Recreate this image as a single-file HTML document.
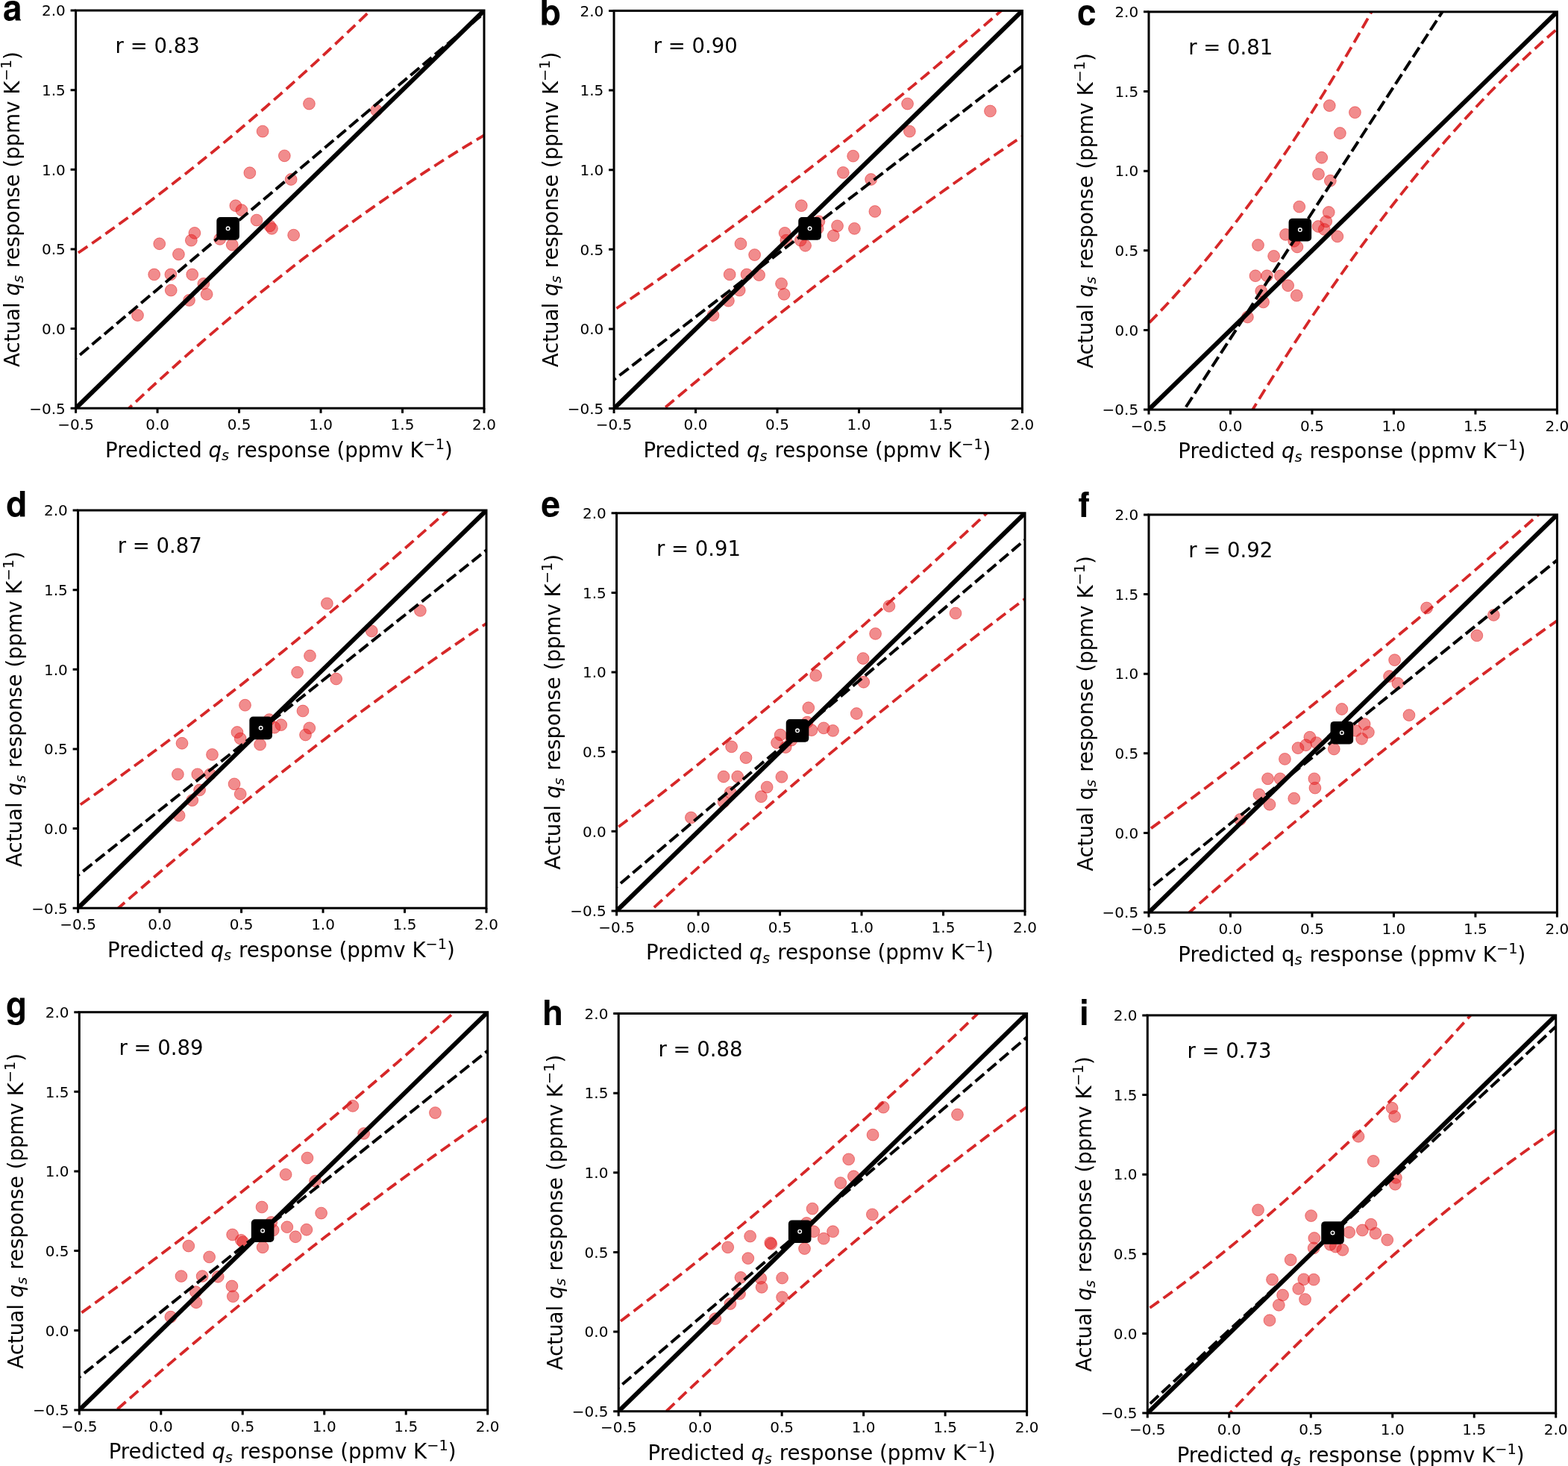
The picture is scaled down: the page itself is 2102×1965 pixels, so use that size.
<!DOCTYPE html><html><head><meta charset="utf-8"><style>html,body{margin:0;padding:0;background:#fff;}svg{display:block;}text{font-family:"DejaVu Sans","Liberation Sans",sans-serif;fill:#000;}.let{font-family:"TeX Gyre Heros","Liberation Sans",Arial,sans-serif;font-weight:bold;}</style></head><body>
<svg xmlns="http://www.w3.org/2000/svg" width="2102" height="1965" viewBox="0 0 2102 1965">
<rect x="0" y="0" width="2102" height="1965" fill="#fff"/>
<defs><clipPath id="ca"><rect x="101.6" y="14" width="547.4" height="533.2"/></clipPath><clipPath id="cb"><rect x="823.05" y="14.4" width="547.4" height="533.2"/></clipPath><clipPath id="cc"><rect x="1540" y="15.85" width="547.4" height="533.2"/></clipPath><clipPath id="cd"><rect x="104.6" y="684" width="547.4" height="533.2"/></clipPath><clipPath id="ce"><rect x="826.6" y="687.75" width="547.4" height="533.2"/></clipPath><clipPath id="cf"><rect x="1540" y="689.9" width="547.4" height="533.2"/></clipPath><clipPath id="cg"><rect x="106.3" y="1356.7" width="547.4" height="533.2"/></clipPath><clipPath id="ch"><rect x="829.2" y="1358.5" width="547.4" height="533.2"/></clipPath><clipPath id="ci"><rect x="1538.3" y="1360.9" width="547.4" height="533.2"/></clipPath></defs>
<g clip-path="url(#ca)">
<g fill="#e41a1c" fill-opacity="0.5" stroke="#e41a1c" stroke-opacity="0.5" stroke-width="1.0">
<circle cx="414.44" cy="139.08" r="7.9"/>
<circle cx="504.58" cy="147.89" r="7.9"/>
<circle cx="352.11" cy="176.06" r="7.9"/>
<circle cx="381.34" cy="208.8" r="7.9"/>
<circle cx="334.86" cy="231.69" r="7.9"/>
<circle cx="390.14" cy="240.49" r="7.9"/>
<circle cx="315.85" cy="275.7" r="7.9"/>
<circle cx="323.94" cy="281.69" r="7.9"/>
<circle cx="344.01" cy="295.07" r="7.9"/>
<circle cx="361.62" cy="302.82" r="7.9"/>
<circle cx="364.44" cy="306.34" r="7.9"/>
<circle cx="393.66" cy="315.14" r="7.9"/>
<circle cx="260.92" cy="312.32" r="7.9"/>
<circle cx="256.34" cy="322.18" r="7.9"/>
<circle cx="213.73" cy="326.76" r="7.9"/>
<circle cx="294.72" cy="320.42" r="7.9"/>
<circle cx="311.27" cy="328.17" r="7.9"/>
<circle cx="239.44" cy="340.85" r="7.9"/>
<circle cx="206.69" cy="367.96" r="7.9"/>
<circle cx="228.87" cy="367.96" r="7.9"/>
<circle cx="257.75" cy="367.96" r="7.9"/>
<circle cx="272.89" cy="380.28" r="7.9"/>
<circle cx="229.23" cy="389.08" r="7.9"/>
<circle cx="277.11" cy="394.37" r="7.9"/>
<circle cx="253.52" cy="402.46" r="7.9"/>
<circle cx="184.51" cy="422.54" r="7.9"/>
</g>
<line x1="79.7" y1="568.53" x2="670.9" y2="-7.33" stroke="#000" stroke-width="6"/>
<line x1="57.81" y1="517.35" x2="692.79" y2="-19.51" stroke="#000" stroke-width="4" stroke-dasharray="15.5 6"/>
<polyline points="86.6,351.32 96.22,344.83 105.85,338.28 115.47,331.66 125.09,324.97 134.72,318.21 144.34,311.38 153.96,304.48 163.59,297.51 173.21,290.48 182.83,283.37 192.46,276.2 202.08,268.96 211.7,261.64 221.33,254.26 230.95,246.82 240.57,239.3 250.2,231.71 259.82,224.05 269.44,216.33 279.07,208.54 288.69,200.67 298.31,192.74 307.94,184.74 317.56,176.67 327.18,168.53 336.81,160.32 346.43,152.05 356.05,143.7 365.68,135.29 375.3,126.81 384.92,118.25 394.55,109.63 404.17,100.94 413.79,92.18 423.42,83.36 433.04,74.46 442.66,65.49 452.29,56.46 461.91,47.35 471.53,38.18 481.16,28.94 490.78,19.63 500.4,10.25 510.03,0.8 519.65,-8.71 529.27,-18.3 538.9,-27.96 548.52,-37.68 558.14,-47.47 567.77,-57.33 577.39,-67.26 587.01,-77.26 596.64,-87.33 606.26,-97.47 615.88,-107.68 625.51,-117.95 635.13,-128.3 644.75,-138.71 654.38,-149.19 664,-159.74" fill="none" stroke="#d62728" stroke-width="3.8" stroke-dasharray="15 7.2"/>
<polyline points="86.6,631.38 96.22,621.72 105.85,612.13 115.47,602.61 125.09,593.15 134.72,583.76 144.34,574.44 153.96,565.19 163.59,556.01 173.21,546.9 182.83,537.85 192.46,528.87 202.08,519.97 211.7,511.12 221.33,502.35 230.95,493.65 240.57,485.01 250.2,476.44 259.82,467.94 269.44,459.51 279.07,451.14 288.69,442.85 298.31,434.62 307.94,426.46 317.56,418.37 327.18,410.35 336.81,402.39 346.43,394.5 356.05,386.69 365.68,378.94 375.3,371.25 384.92,363.64 394.55,356.09 404.17,348.62 413.79,341.21 423.42,333.86 433.04,326.59 442.66,319.39 452.29,312.25 461.91,305.18 471.53,298.18 481.16,291.25 490.78,284.38 500.4,277.59 510.03,270.86 519.65,264.2 529.27,257.61 538.9,251.09 548.52,244.63 558.14,238.24 567.77,231.93 577.39,225.68 587.01,219.49 596.64,213.38 606.26,207.33 615.88,201.35 625.51,195.45 635.13,189.6 644.75,183.83 654.38,178.13 664,172.49" fill="none" stroke="#d62728" stroke-width="3.8" stroke-dasharray="15 7.2"/>
</g>
<rect x="290.33" y="291.04" width="30.6" height="30.6" rx="5" fill="#000"/>
<circle cx="305.63" cy="306.34" r="2.3" fill="none" stroke="#fff" stroke-width="1.4"/>
<rect x="101.6" y="14" width="547.4" height="533.2" fill="none" stroke="#000" stroke-width="3"/>
<path d="M101.6 547.2V553.7M101.6 547.2H94.6M211.08 547.2V553.7M101.6 440.56H94.6M320.56 547.2V553.7M101.6 333.92H94.6M430.04 547.2V553.7M101.6 227.28H94.6M539.52 547.2V553.7M101.6 120.64H94.6M649 547.2V553.7M101.6 14H94.6" stroke="#000" stroke-width="3" fill="none"/>
<text x="101.6" y="575.9" font-size="20" text-anchor="middle">−0.5</text>
<text x="87.8" y="554.5" font-size="20" text-anchor="end">−0.5</text>
<text x="211.08" y="575.9" font-size="20" text-anchor="middle">0.0</text>
<text x="87.8" y="447.86" font-size="20" text-anchor="end">0.0</text>
<text x="320.56" y="575.9" font-size="20" text-anchor="middle">0.5</text>
<text x="87.8" y="341.22" font-size="20" text-anchor="end">0.5</text>
<text x="430.04" y="575.9" font-size="20" text-anchor="middle">1.0</text>
<text x="87.8" y="234.58" font-size="20" text-anchor="end">1.0</text>
<text x="539.52" y="575.9" font-size="20" text-anchor="middle">1.5</text>
<text x="87.8" y="127.94" font-size="20" text-anchor="end">1.5</text>
<text x="649" y="575.9" font-size="20" text-anchor="middle">2.0</text>
<text x="87.8" y="21.3" font-size="20" text-anchor="end">2.0</text>
<text x="373.9" y="612.6" font-size="27.65" text-anchor="middle">Predicted <tspan font-style="italic">q</tspan><tspan font-size="19.35" font-style="italic" dy="4.5">s</tspan><tspan dy="-4.5" dx="1.2"> </tspan>response (ppmv K<tspan font-size="19.35" dy="-11">−1</tspan><tspan dy="11">)</tspan></text>
<text transform="translate(26.3 280.6) rotate(-90)" x="0" y="0" font-size="27.65" text-anchor="middle">Actual <tspan font-style="italic">q</tspan><tspan font-size="19.35" font-style="italic" dy="4.5">s</tspan><tspan dy="-4.5" dx="1.2"> </tspan>response (ppmv K<tspan font-size="19.35" dy="-11">−1</tspan><tspan dy="11">)</tspan></text>
<text x="154.59" y="71.02" font-size="27.5">r = 0.83</text>
<text class="let" x="4" y="26.6" font-size="46">a</text>
<g clip-path="url(#cb)">
<g fill="#e41a1c" fill-opacity="0.5" stroke="#e41a1c" stroke-opacity="0.5" stroke-width="1.0">
<circle cx="1216.55" cy="139.08" r="7.9"/>
<circle cx="1327.46" cy="148.94" r="7.9"/>
<circle cx="1219.37" cy="176.06" r="7.9"/>
<circle cx="1143.66" cy="209.15" r="7.9"/>
<circle cx="1130.28" cy="231.34" r="7.9"/>
<circle cx="1167.61" cy="240.49" r="7.9"/>
<circle cx="1074.3" cy="275.7" r="7.9"/>
<circle cx="1172.89" cy="283.45" r="7.9"/>
<circle cx="1097.89" cy="296.83" r="7.9"/>
<circle cx="1096.13" cy="306.34" r="7.9"/>
<circle cx="1122.54" cy="302.82" r="7.9"/>
<circle cx="1145.42" cy="306.34" r="7.9"/>
<circle cx="1117.25" cy="315.85" r="7.9"/>
<circle cx="1052.11" cy="312.32" r="7.9"/>
<circle cx="1053.87" cy="322.18" r="7.9"/>
<circle cx="1073.24" cy="322.18" r="7.9"/>
<circle cx="1079.58" cy="329.23" r="7.9"/>
<circle cx="992.96" cy="326.76" r="7.9"/>
<circle cx="1011.62" cy="341.55" r="7.9"/>
<circle cx="978.17" cy="367.96" r="7.9"/>
<circle cx="1001.06" cy="367.96" r="7.9"/>
<circle cx="1017.61" cy="368.66" r="7.9"/>
<circle cx="1047.54" cy="380.28" r="7.9"/>
<circle cx="1051.06" cy="394.37" r="7.9"/>
<circle cx="991.2" cy="389.08" r="7.9"/>
<circle cx="976.41" cy="403.17" r="7.9"/>
<circle cx="955.99" cy="422.54" r="7.9"/>
</g>
<line x1="801.15" y1="568.93" x2="1392.35" y2="-6.93" stroke="#000" stroke-width="6"/>
<line x1="779.26" y1="542.53" x2="1414.24" y2="54.66" stroke="#000" stroke-width="4" stroke-dasharray="15.5 6"/>
<polyline points="808.05,425.67 817.67,419.23 827.3,412.76 836.92,406.25 846.54,399.7 856.17,393.12 865.79,386.5 875.41,379.85 885.04,373.16 894.66,366.43 904.28,359.67 913.91,352.88 923.53,346.05 933.15,339.18 942.78,332.28 952.4,325.34 962.02,318.37 971.65,311.36 981.27,304.31 990.89,297.23 1000.52,290.12 1010.14,282.97 1019.76,275.78 1029.39,268.56 1039.01,261.3 1048.63,254.01 1058.26,246.68 1067.88,239.32 1077.5,231.92 1087.13,224.48 1096.75,217.01 1106.37,209.5 1116,201.96 1125.62,194.38 1135.24,186.77 1144.87,179.12 1154.49,171.44 1164.11,163.72 1173.74,155.96 1183.36,148.17 1192.98,140.34 1202.61,132.48 1212.23,124.58 1221.85,116.65 1231.48,108.68 1241.1,100.68 1250.72,92.64 1260.35,84.56 1269.97,76.45 1279.59,68.31 1289.22,60.12 1298.84,51.91 1308.46,43.65 1318.09,35.36 1327.71,27.04 1337.33,18.68 1346.96,10.28 1356.58,1.85 1366.2,-6.61 1375.83,-15.12 1385.45,-23.65" fill="none" stroke="#d62728" stroke-width="3.8" stroke-dasharray="15 7.2"/>
<polyline points="808.05,618.36 817.67,609.93 827.3,601.53 836.92,593.17 846.54,584.84 856.17,576.55 865.79,568.29 875.41,560.06 885.04,551.87 894.66,543.71 904.28,535.58 913.91,527.49 923.53,519.44 933.15,511.42 942.78,503.43 952.4,495.47 962.02,487.55 971.65,479.67 981.27,471.82 990.89,464 1000.52,456.21 1010.14,448.46 1019.76,440.75 1029.39,433.07 1039.01,425.42 1048.63,417.81 1058.26,410.23 1067.88,402.68 1077.5,395.17 1087.13,387.7 1096.75,380.25 1106.37,372.84 1116,365.47 1125.62,358.13 1135.24,350.82 1144.87,343.55 1154.49,336.31 1164.11,329.11 1173.74,321.94 1183.36,314.8 1192.98,307.7 1202.61,300.63 1212.23,293.6 1221.85,286.6 1231.48,279.63 1241.1,272.7 1250.72,265.81 1260.35,258.94 1269.97,252.11 1279.59,245.32 1289.22,238.56 1298.84,231.83 1308.46,225.14 1318.09,218.48 1327.71,211.85 1337.33,205.26 1346.96,198.71 1356.58,192.18 1366.2,185.7 1375.83,179.24 1385.45,172.82" fill="none" stroke="#d62728" stroke-width="3.8" stroke-dasharray="15 7.2"/>
</g>
<rect x="1070.26" y="291.04" width="30.6" height="30.6" rx="5" fill="#000"/>
<circle cx="1085.56" cy="306.34" r="2.3" fill="none" stroke="#fff" stroke-width="1.4"/>
<rect x="823.05" y="14.4" width="547.4" height="533.2" fill="none" stroke="#000" stroke-width="3"/>
<path d="M823.05 547.6V554.1M823.05 547.6H816.05M932.53 547.6V554.1M823.05 440.96H816.05M1042.01 547.6V554.1M823.05 334.32H816.05M1151.49 547.6V554.1M823.05 227.68H816.05M1260.97 547.6V554.1M823.05 121.04H816.05M1370.45 547.6V554.1M823.05 14.4H816.05" stroke="#000" stroke-width="3" fill="none"/>
<text x="823.05" y="576.3" font-size="20" text-anchor="middle">−0.5</text>
<text x="809.25" y="554.9" font-size="20" text-anchor="end">−0.5</text>
<text x="932.53" y="576.3" font-size="20" text-anchor="middle">0.0</text>
<text x="809.25" y="448.26" font-size="20" text-anchor="end">0.0</text>
<text x="1042.01" y="576.3" font-size="20" text-anchor="middle">0.5</text>
<text x="809.25" y="341.62" font-size="20" text-anchor="end">0.5</text>
<text x="1151.49" y="576.3" font-size="20" text-anchor="middle">1.0</text>
<text x="809.25" y="234.98" font-size="20" text-anchor="end">1.0</text>
<text x="1260.97" y="576.3" font-size="20" text-anchor="middle">1.5</text>
<text x="809.25" y="128.34" font-size="20" text-anchor="end">1.5</text>
<text x="1370.45" y="576.3" font-size="20" text-anchor="middle">2.0</text>
<text x="809.25" y="21.7" font-size="20" text-anchor="end">2.0</text>
<text x="1095.35" y="613" font-size="27.65" text-anchor="middle">Predicted <tspan font-style="italic">q</tspan><tspan font-size="19.35" font-style="italic" dy="4.5">s</tspan><tspan dy="-4.5" dx="1.2"> </tspan>response (ppmv K<tspan font-size="19.35" dy="-11">−1</tspan><tspan dy="11">)</tspan></text>
<text transform="translate(747.75 281) rotate(-90)" x="0" y="0" font-size="27.65" text-anchor="middle">Actual <tspan font-style="italic">q</tspan><tspan font-size="19.35" font-style="italic" dy="4.5">s</tspan><tspan dy="-4.5" dx="1.2"> </tspan>response (ppmv K<tspan font-size="19.35" dy="-11">−1</tspan><tspan dy="11">)</tspan></text>
<text x="875.71" y="71.02" font-size="27.5">r = 0.90</text>
<text class="let" x="723.8" y="33.2" font-size="46">b</text>
<g clip-path="url(#cc)">
<g fill="#e41a1c" fill-opacity="0.5" stroke="#e41a1c" stroke-opacity="0.5" stroke-width="1.0">
<circle cx="1782.28" cy="141.55" r="7.9"/>
<circle cx="1816.44" cy="150.7" r="7.9"/>
<circle cx="1796.37" cy="178.52" r="7.9"/>
<circle cx="1771.72" cy="211.27" r="7.9"/>
<circle cx="1767.49" cy="233.45" r="7.9"/>
<circle cx="1783.34" cy="242.25" r="7.9"/>
<circle cx="1741.79" cy="277.11" r="7.9"/>
<circle cx="1781.23" cy="284.51" r="7.9"/>
<circle cx="1777.7" cy="296.83" r="7.9"/>
<circle cx="1767.14" cy="303.52" r="7.9"/>
<circle cx="1775.24" cy="307.39" r="7.9"/>
<circle cx="1792.85" cy="316.9" r="7.9"/>
<circle cx="1723.48" cy="314.44" r="7.9"/>
<circle cx="1734.75" cy="323.24" r="7.9"/>
<circle cx="1738.97" cy="330.99" r="7.9"/>
<circle cx="1686.51" cy="328.52" r="7.9"/>
<circle cx="1707.63" cy="343.31" r="7.9"/>
<circle cx="1682.99" cy="369.72" r="7.9"/>
<circle cx="1698.48" cy="369.72" r="7.9"/>
<circle cx="1716.44" cy="369.72" r="7.9"/>
<circle cx="1726.65" cy="382.75" r="7.9"/>
<circle cx="1738.27" cy="396.13" r="7.9"/>
<circle cx="1690.73" cy="390.14" r="7.9"/>
<circle cx="1693.55" cy="404.93" r="7.9"/>
<circle cx="1672.42" cy="425" r="7.9"/>
</g>
<line x1="1518.1" y1="570.38" x2="2109.3" y2="-5.48" stroke="#000" stroke-width="6"/>
<line x1="1496.21" y1="689.75" x2="2131.19" y2="-288.67" stroke="#000" stroke-width="4" stroke-dasharray="15.5 6"/>
<polyline points="1525,447.93 1534.62,438.5 1544.25,428.83 1553.87,418.92 1563.49,408.76 1573.12,398.36 1582.74,387.72 1592.36,376.83 1601.99,365.71 1611.61,354.34 1621.23,342.73 1630.86,330.88 1640.48,318.78 1650.1,306.44 1659.73,293.86 1669.35,281.04 1678.97,267.97 1688.6,254.66 1698.22,241.11 1707.84,227.32 1717.47,213.28 1727.09,199.01 1736.71,184.49 1746.34,169.72 1755.96,154.72 1765.58,139.47 1775.21,123.98 1784.83,108.25 1794.45,92.27 1804.08,76.05 1813.7,59.59 1823.32,42.89 1832.95,25.95 1842.57,8.76 1852.19,-8.67 1861.82,-26.34 1871.44,-44.26 1881.06,-62.41 1890.69,-80.81 1900.31,-99.45 1909.93,-118.34 1919.56,-137.47 1929.18,-156.83 1938.8,-176.45 1948.43,-196.3 1958.05,-216.4 1967.67,-236.74 1977.3,-257.32 1986.92,-278.14 1996.54,-299.21 2006.17,-320.52 2015.79,-342.07 2025.41,-363.86 2035.04,-385.9 2044.66,-408.17 2054.28,-430.7 2063.91,-453.46 2073.53,-476.46 2083.15,-499.71 2092.78,-523.2 2102.4,-546.94" fill="none" stroke="#d62728" stroke-width="3.8" stroke-dasharray="15 7.2"/>
<polyline points="1525,825.16 1534.62,806.6 1544.25,788.22 1553.87,770.01 1563.49,751.98 1573.12,734.14 1582.74,716.46 1592.36,698.97 1601.99,681.65 1611.61,664.51 1621.23,647.55 1630.86,630.77 1640.48,614.17 1650.1,597.74 1659.73,581.49 1669.35,565.42 1678.97,549.52 1688.6,533.81 1698.22,518.27 1707.84,502.91 1717.47,487.73 1727.09,472.72 1736.71,457.9 1746.34,443.25 1755.96,428.77 1765.58,414.48 1775.21,400.37 1784.83,386.43 1794.45,372.67 1804.08,359.08 1813.7,345.68 1823.32,332.45 1832.95,319.4 1842.57,306.53 1852.19,293.84 1861.82,281.32 1871.44,268.99 1881.06,256.83 1890.69,244.84 1900.31,233.04 1909.93,221.41 1919.56,209.96 1929.18,198.69 1938.8,187.6 1948.43,176.68 1958.05,165.95 1967.67,155.39 1977.3,145 1986.92,134.8 1996.54,124.77 2006.17,114.92 2015.79,105.25 2025.41,95.76 2035.04,86.44 2044.66,77.31 2054.28,68.35 2063.91,59.57 2073.53,50.96 2083.15,42.53 2092.78,34.29 2102.4,26.22" fill="none" stroke="#d62728" stroke-width="3.8" stroke-dasharray="15 7.2"/>
</g>
<rect x="1727.55" y="292.8" width="30.6" height="30.6" rx="5" fill="#000"/>
<circle cx="1742.85" cy="308.1" r="2.3" fill="none" stroke="#fff" stroke-width="1.4"/>
<rect x="1540" y="15.85" width="547.4" height="533.2" fill="none" stroke="#000" stroke-width="3"/>
<path d="M1540 549.05V555.55M1540 549.05H1533M1649.48 549.05V555.55M1540 442.41H1533M1758.96 549.05V555.55M1540 335.77H1533M1868.44 549.05V555.55M1540 229.13H1533M1977.92 549.05V555.55M1540 122.49H1533M2087.4 549.05V555.55M1540 15.85H1533" stroke="#000" stroke-width="3" fill="none"/>
<text x="1540" y="577.75" font-size="20" text-anchor="middle">−0.5</text>
<text x="1526.2" y="556.35" font-size="20" text-anchor="end">−0.5</text>
<text x="1649.48" y="577.75" font-size="20" text-anchor="middle">0.0</text>
<text x="1526.2" y="449.71" font-size="20" text-anchor="end">0.0</text>
<text x="1758.96" y="577.75" font-size="20" text-anchor="middle">0.5</text>
<text x="1526.2" y="343.07" font-size="20" text-anchor="end">0.5</text>
<text x="1868.44" y="577.75" font-size="20" text-anchor="middle">1.0</text>
<text x="1526.2" y="236.43" font-size="20" text-anchor="end">1.0</text>
<text x="1977.92" y="577.75" font-size="20" text-anchor="middle">1.5</text>
<text x="1526.2" y="129.79" font-size="20" text-anchor="end">1.5</text>
<text x="2087.4" y="577.75" font-size="20" text-anchor="middle">2.0</text>
<text x="1526.2" y="23.15" font-size="20" text-anchor="end">2.0</text>
<text x="1812.3" y="614.45" font-size="27.65" text-anchor="middle">Predicted <tspan font-style="italic">q</tspan><tspan font-size="19.35" font-style="italic" dy="4.5">s</tspan><tspan dy="-4.5" dx="1.2"> </tspan>response (ppmv K<tspan font-size="19.35" dy="-11">−1</tspan><tspan dy="11">)</tspan></text>
<text transform="translate(1464.7 282.45) rotate(-90)" x="0" y="0" font-size="27.65" text-anchor="middle">Actual <tspan font-style="italic">q</tspan><tspan font-size="19.35" font-style="italic" dy="4.5">s</tspan><tspan dy="-4.5" dx="1.2"> </tspan>response (ppmv K<tspan font-size="19.35" dy="-11">−1</tspan><tspan dy="11">)</tspan></text>
<text x="1593.21" y="72.78" font-size="27.5">r = 0.81</text>
<text class="let" x="1444.1" y="33.3" font-size="46">c</text>
<g clip-path="url(#cd)">
<g fill="#e41a1c" fill-opacity="0.5" stroke="#e41a1c" stroke-opacity="0.5" stroke-width="1.0">
<circle cx="438.38" cy="808.94" r="7.9"/>
<circle cx="563.38" cy="818.45" r="7.9"/>
<circle cx="498.24" cy="845.92" r="7.9"/>
<circle cx="415.49" cy="879.01" r="7.9"/>
<circle cx="398.59" cy="901.2" r="7.9"/>
<circle cx="450.7" cy="910" r="7.9"/>
<circle cx="328.52" cy="945.21" r="7.9"/>
<circle cx="405.99" cy="952.96" r="7.9"/>
<circle cx="360.92" cy="964.58" r="7.9"/>
<circle cx="376.76" cy="971.62" r="7.9"/>
<circle cx="367.96" cy="975.14" r="7.9"/>
<circle cx="414.79" cy="975.85" r="7.9"/>
<circle cx="409.51" cy="985" r="7.9"/>
<circle cx="317.96" cy="981.48" r="7.9"/>
<circle cx="322.18" cy="989.93" r="7.9"/>
<circle cx="348.59" cy="998.03" r="7.9"/>
<circle cx="244.01" cy="996.27" r="7.9"/>
<circle cx="284.51" cy="1011.41" r="7.9"/>
<circle cx="238.38" cy="1037.82" r="7.9"/>
<circle cx="264.79" cy="1037.82" r="7.9"/>
<circle cx="281.69" cy="1037.82" r="7.9"/>
<circle cx="314.08" cy="1050.85" r="7.9"/>
<circle cx="322.18" cy="1064.23" r="7.9"/>
<circle cx="267.61" cy="1058.94" r="7.9"/>
<circle cx="257.75" cy="1072.68" r="7.9"/>
<circle cx="240.14" cy="1093.1" r="7.9"/>
</g>
<line x1="82.7" y1="1238.53" x2="673.9" y2="662.67" stroke="#000" stroke-width="6"/>
<line x1="60.81" y1="1208.06" x2="695.79" y2="702.64" stroke="#000" stroke-width="4" stroke-dasharray="15.5 6"/>
<polyline points="89.6,1091.22 99.22,1084.52 108.85,1077.78 118.47,1071 128.09,1064.19 137.72,1057.34 147.34,1050.45 156.96,1043.52 166.59,1036.56 176.21,1029.55 185.83,1022.52 195.46,1015.44 205.08,1008.33 214.7,1001.18 224.33,993.99 233.95,986.76 243.57,979.5 253.2,972.2 262.82,964.86 272.44,957.49 282.07,950.08 291.69,942.63 301.31,935.14 310.94,927.62 320.56,920.06 330.18,912.46 339.81,904.83 349.43,897.16 359.05,889.45 368.68,881.7 378.3,873.91 387.92,866.09 397.55,858.23 407.17,850.34 416.79,842.41 426.42,834.43 436.04,826.43 445.66,818.38 455.29,810.3 464.91,802.18 474.53,794.02 484.16,785.83 493.78,777.6 503.4,769.33 513.03,761.02 522.65,752.68 532.27,744.3 541.9,735.88 551.52,727.42 561.14,718.93 570.77,710.4 580.39,701.83 590.01,693.23 599.64,684.59 609.26,675.91 618.88,667.19 628.51,658.44 638.13,649.65 647.75,640.82 657.38,631.95 667,623.05" fill="none" stroke="#d62728" stroke-width="3.8" stroke-dasharray="15 7.2"/>
<polyline points="89.6,1278.74 99.22,1270.05 108.85,1261.39 118.47,1252.78 128.09,1244.2 137.72,1235.66 147.34,1227.16 156.96,1218.7 166.59,1210.28 176.21,1201.89 185.83,1193.55 195.46,1185.24 205.08,1176.97 214.7,1168.74 224.33,1160.55 233.95,1152.4 243.57,1144.29 253.2,1136.22 262.82,1128.18 272.44,1120.18 282.07,1112.23 291.69,1104.31 301.31,1096.43 310.94,1088.58 320.56,1080.78 330.18,1073.02 339.81,1065.29 349.43,1057.6 359.05,1049.96 368.68,1042.35 378.3,1034.78 387.92,1027.24 397.55,1019.75 407.17,1012.3 416.79,1004.88 426.42,997.5 436.04,990.16 445.66,982.86 455.29,975.6 464.91,968.38 474.53,961.2 484.16,954.05 493.78,946.95 503.4,939.88 513.03,932.85 522.65,925.86 532.27,918.91 541.9,911.99 551.52,905.12 561.14,898.29 570.77,891.49 580.39,884.73 590.01,878.01 599.64,871.33 609.26,864.69 618.88,858.09 628.51,851.52 638.13,845 647.75,838.51 657.38,832.06 667,825.65" fill="none" stroke="#d62728" stroke-width="3.8" stroke-dasharray="15 7.2"/>
</g>
<rect x="334.35" y="960.55" width="30.6" height="30.6" rx="5" fill="#000"/>
<circle cx="349.65" cy="975.85" r="2.3" fill="none" stroke="#fff" stroke-width="1.4"/>
<rect x="104.6" y="684" width="547.4" height="533.2" fill="none" stroke="#000" stroke-width="3"/>
<path d="M104.6 1217.2V1223.7M104.6 1217.2H97.6M214.08 1217.2V1223.7M104.6 1110.56H97.6M323.56 1217.2V1223.7M104.6 1003.92H97.6M433.04 1217.2V1223.7M104.6 897.28H97.6M542.52 1217.2V1223.7M104.6 790.64H97.6M652 1217.2V1223.7M104.6 684H97.6" stroke="#000" stroke-width="3" fill="none"/>
<text x="104.6" y="1245.9" font-size="20" text-anchor="middle">−0.5</text>
<text x="90.8" y="1224.5" font-size="20" text-anchor="end">−0.5</text>
<text x="214.08" y="1245.9" font-size="20" text-anchor="middle">0.0</text>
<text x="90.8" y="1117.86" font-size="20" text-anchor="end">0.0</text>
<text x="323.56" y="1245.9" font-size="20" text-anchor="middle">0.5</text>
<text x="90.8" y="1011.22" font-size="20" text-anchor="end">0.5</text>
<text x="433.04" y="1245.9" font-size="20" text-anchor="middle">1.0</text>
<text x="90.8" y="904.58" font-size="20" text-anchor="end">1.0</text>
<text x="542.52" y="1245.9" font-size="20" text-anchor="middle">1.5</text>
<text x="90.8" y="797.94" font-size="20" text-anchor="end">1.5</text>
<text x="652" y="1245.9" font-size="20" text-anchor="middle">2.0</text>
<text x="90.8" y="691.3" font-size="20" text-anchor="end">2.0</text>
<text x="376.9" y="1282.6" font-size="27.65" text-anchor="middle">Predicted <tspan font-style="italic">q</tspan><tspan font-size="19.35" font-style="italic" dy="4.5">s</tspan><tspan dy="-4.5" dx="1.2"> </tspan>response (ppmv K<tspan font-size="19.35" dy="-11">−1</tspan><tspan dy="11">)</tspan></text>
<text transform="translate(29.3 950.6) rotate(-90)" x="0" y="0" font-size="27.65" text-anchor="middle">Actual <tspan font-style="italic">q</tspan><tspan font-size="19.35" font-style="italic" dy="4.5">s</tspan><tspan dy="-4.5" dx="1.2"> </tspan>response (ppmv K<tspan font-size="19.35" dy="-11">−1</tspan><tspan dy="11">)</tspan></text>
<text x="157.75" y="740.88" font-size="27.5">r = 0.87</text>
<text class="let" x="8.3" y="691.6" font-size="46">d</text>
<g clip-path="url(#ce)">
<g fill="#e41a1c" fill-opacity="0.5" stroke="#e41a1c" stroke-opacity="0.5" stroke-width="1.0">
<circle cx="1191.9" cy="812.46" r="7.9"/>
<circle cx="1280.99" cy="821.97" r="7.9"/>
<circle cx="1173.59" cy="849.44" r="7.9"/>
<circle cx="1157.04" cy="882.54" r="7.9"/>
<circle cx="1093.66" cy="905.42" r="7.9"/>
<circle cx="1157.75" cy="914.23" r="7.9"/>
<circle cx="1083.8" cy="948.73" r="7.9"/>
<circle cx="1148.24" cy="956.48" r="7.9"/>
<circle cx="1082.04" cy="968.1" r="7.9"/>
<circle cx="1088.03" cy="978.66" r="7.9"/>
<circle cx="1104.23" cy="975.85" r="7.9"/>
<circle cx="1116.55" cy="979.37" r="7.9"/>
<circle cx="1046.13" cy="985" r="7.9"/>
<circle cx="1041.55" cy="995.56" r="7.9"/>
<circle cx="1053.17" cy="1001.55" r="7.9"/>
<circle cx="1060.92" cy="992.04" r="7.9"/>
<circle cx="980.63" cy="1000.85" r="7.9"/>
<circle cx="1000" cy="1015.63" r="7.9"/>
<circle cx="970.07" cy="1040.99" r="7.9"/>
<circle cx="988.73" cy="1040.99" r="7.9"/>
<circle cx="1047.89" cy="1041.34" r="7.9"/>
<circle cx="1028.17" cy="1055.07" r="7.9"/>
<circle cx="1020.42" cy="1067.75" r="7.9"/>
<circle cx="979.23" cy="1062.11" r="7.9"/>
<circle cx="970.07" cy="1074.79" r="7.9"/>
<circle cx="926.41" cy="1095.92" r="7.9"/>
</g>
<line x1="804.7" y1="1242.28" x2="1395.9" y2="666.42" stroke="#000" stroke-width="6"/>
<line x1="782.81" y1="1225.74" x2="1417.79" y2="686.48" stroke="#000" stroke-width="4" stroke-dasharray="15.5 6"/>
<polyline points="811.6,1121.73 821.22,1114.4 830.85,1107.03 840.47,1099.64 850.09,1092.21 859.72,1084.74 869.34,1077.25 878.96,1069.72 888.59,1062.17 898.21,1054.58 907.83,1046.95 917.46,1039.3 927.08,1031.61 936.7,1023.9 946.33,1016.15 955.95,1008.36 965.57,1000.55 975.2,992.7 984.82,984.83 994.44,976.92 1004.07,968.98 1013.69,961 1023.31,953 1032.94,944.96 1042.56,936.89 1052.18,928.79 1061.81,920.65 1071.43,912.49 1081.05,904.29 1090.68,896.06 1100.3,887.8 1109.92,879.51 1119.55,871.18 1129.17,862.82 1138.79,854.44 1148.42,846.01 1158.04,837.56 1167.66,829.08 1177.29,820.56 1186.91,812.01 1196.53,803.43 1206.16,794.82 1215.78,786.17 1225.4,777.49 1235.03,768.79 1244.65,760.04 1254.27,751.27 1263.9,742.47 1273.52,733.63 1283.14,724.76 1292.77,715.86 1302.39,706.93 1312.01,697.96 1321.64,688.97 1331.26,679.94 1340.88,670.88 1350.51,661.78 1360.13,652.66 1369.75,643.5 1379.38,634.32 1389,625.09" fill="none" stroke="#d62728" stroke-width="3.8" stroke-dasharray="15 7.2"/>
<polyline points="811.6,1276.49 821.22,1267.52 830.85,1258.58 840.47,1249.67 850.09,1240.78 859.72,1231.93 869.34,1223.11 878.96,1214.32 888.59,1205.56 898.21,1196.82 907.83,1188.12 917.46,1179.45 927.08,1170.81 936.7,1162.2 946.33,1153.62 955.95,1145.07 965.57,1136.55 975.2,1128.06 984.82,1119.6 994.44,1111.17 1004.07,1102.77 1013.69,1094.4 1023.31,1086.07 1032.94,1077.76 1042.56,1069.48 1052.18,1061.23 1061.81,1053.01 1071.43,1044.83 1081.05,1036.67 1090.68,1028.54 1100.3,1020.44 1109.92,1012.38 1119.55,1004.34 1129.17,996.33 1138.79,988.36 1148.42,980.41 1158.04,972.5 1167.66,964.61 1177.29,956.76 1186.91,948.93 1196.53,941.14 1206.16,933.37 1215.78,925.64 1225.4,917.93 1235.03,910.26 1244.65,902.61 1254.27,895 1263.9,887.42 1273.52,879.86 1283.14,872.34 1292.77,864.85 1302.39,857.38 1312.01,849.95 1321.64,842.55 1331.26,835.18 1340.88,827.83 1350.51,820.52 1360.13,813.24 1369.75,805.99 1379.38,798.77 1389,791.58" fill="none" stroke="#d62728" stroke-width="3.8" stroke-dasharray="15 7.2"/>
</g>
<rect x="1053.71" y="964.07" width="30.6" height="30.6" rx="5" fill="#000"/>
<circle cx="1069.01" cy="979.37" r="2.3" fill="none" stroke="#fff" stroke-width="1.4"/>
<rect x="826.6" y="687.75" width="547.4" height="533.2" fill="none" stroke="#000" stroke-width="3"/>
<path d="M826.6 1220.95V1227.45M826.6 1220.95H819.6M936.08 1220.95V1227.45M826.6 1114.31H819.6M1045.56 1220.95V1227.45M826.6 1007.67H819.6M1155.04 1220.95V1227.45M826.6 901.03H819.6M1264.52 1220.95V1227.45M826.6 794.39H819.6M1374 1220.95V1227.45M826.6 687.75H819.6" stroke="#000" stroke-width="3" fill="none"/>
<text x="826.6" y="1249.65" font-size="20" text-anchor="middle">−0.5</text>
<text x="812.8" y="1228.25" font-size="20" text-anchor="end">−0.5</text>
<text x="936.08" y="1249.65" font-size="20" text-anchor="middle">0.0</text>
<text x="812.8" y="1121.61" font-size="20" text-anchor="end">0.0</text>
<text x="1045.56" y="1249.65" font-size="20" text-anchor="middle">0.5</text>
<text x="812.8" y="1014.97" font-size="20" text-anchor="end">0.5</text>
<text x="1155.04" y="1249.65" font-size="20" text-anchor="middle">1.0</text>
<text x="812.8" y="908.33" font-size="20" text-anchor="end">1.0</text>
<text x="1264.52" y="1249.65" font-size="20" text-anchor="middle">1.5</text>
<text x="812.8" y="801.69" font-size="20" text-anchor="end">1.5</text>
<text x="1374" y="1249.65" font-size="20" text-anchor="middle">2.0</text>
<text x="812.8" y="695.05" font-size="20" text-anchor="end">2.0</text>
<text x="1098.9" y="1286.35" font-size="27.65" text-anchor="middle">Predicted <tspan font-style="italic">q</tspan><tspan font-size="19.35" font-style="italic" dy="4.5">s</tspan><tspan dy="-4.5" dx="1.2"> </tspan>response (ppmv K<tspan font-size="19.35" dy="-11">−1</tspan><tspan dy="11">)</tspan></text>
<text transform="translate(751.3 954.35) rotate(-90)" x="0" y="0" font-size="27.65" text-anchor="middle">Actual <tspan font-style="italic">q</tspan><tspan font-size="19.35" font-style="italic" dy="4.5">s</tspan><tspan dy="-4.5" dx="1.2"> </tspan>response (ppmv K<tspan font-size="19.35" dy="-11">−1</tspan><tspan dy="11">)</tspan></text>
<text x="879.94" y="745.11" font-size="27.5">r = 0.91</text>
<text class="let" x="725.4" y="691.5" font-size="46">e</text>
<g clip-path="url(#cf)">
<g fill="#e41a1c" fill-opacity="0.5" stroke="#e41a1c" stroke-opacity="0.5" stroke-width="1.0">
<circle cx="1912.56" cy="814.93" r="7.9"/>
<circle cx="2002.35" cy="824.44" r="7.9"/>
<circle cx="1979.82" cy="851.9" r="7.9"/>
<circle cx="1869.61" cy="884.65" r="7.9"/>
<circle cx="1862.56" cy="906.48" r="7.9"/>
<circle cx="1873.83" cy="915.99" r="7.9"/>
<circle cx="1798.83" cy="950.49" r="7.9"/>
<circle cx="1888.97" cy="958.59" r="7.9"/>
<circle cx="1829.11" cy="970.56" r="7.9"/>
<circle cx="1817.49" cy="979.37" r="7.9"/>
<circle cx="1834.39" cy="981.48" r="7.9"/>
<circle cx="1825.59" cy="990.28" r="7.9"/>
<circle cx="1755.87" cy="988.17" r="7.9"/>
<circle cx="1764.68" cy="995.56" r="7.9"/>
<circle cx="1750.59" cy="998.73" r="7.9"/>
<circle cx="1740.03" cy="1002.61" r="7.9"/>
<circle cx="1788.27" cy="1004.01" r="7.9"/>
<circle cx="1722.42" cy="1017.39" r="7.9"/>
<circle cx="1699.54" cy="1043.8" r="7.9"/>
<circle cx="1716.08" cy="1043.8" r="7.9"/>
<circle cx="1761.86" cy="1043.8" r="7.9"/>
<circle cx="1762.92" cy="1056.13" r="7.9"/>
<circle cx="1687.92" cy="1064.93" r="7.9"/>
<circle cx="1702" cy="1078.31" r="7.9"/>
<circle cx="1734.75" cy="1070.21" r="7.9"/>
<circle cx="1662.56" cy="1098.38" r="7.9"/>
</g>
<line x1="1518.1" y1="1244.43" x2="2109.3" y2="668.57" stroke="#000" stroke-width="6"/>
<line x1="1496.21" y1="1227.44" x2="2131.19" y2="715.48" stroke="#000" stroke-width="4" stroke-dasharray="15.5 6"/>
<polyline points="1525,1123.38 1534.62,1116.4 1544.25,1109.39 1553.87,1102.35 1563.49,1095.28 1573.12,1088.19 1582.74,1081.06 1592.36,1073.91 1601.99,1066.73 1611.61,1059.52 1621.23,1052.28 1630.86,1045.01 1640.48,1037.72 1650.1,1030.39 1659.73,1023.04 1669.35,1015.66 1678.97,1008.25 1688.6,1000.81 1698.22,993.34 1707.84,985.85 1717.47,978.32 1727.09,970.77 1736.71,963.19 1746.34,955.58 1755.96,947.94 1765.58,940.27 1775.21,932.58 1784.83,924.85 1794.45,917.1 1804.08,909.32 1813.7,901.51 1823.32,893.67 1832.95,885.8 1842.57,877.91 1852.19,869.98 1861.82,862.03 1871.44,854.05 1881.06,846.04 1890.69,838 1900.31,829.93 1909.93,821.84 1919.56,813.71 1929.18,805.56 1938.8,797.38 1948.43,789.17 1958.05,780.93 1967.67,772.66 1977.3,764.37 1986.92,756.04 1996.54,747.69 2006.17,739.31 2015.79,730.9 2025.41,722.46 2035.04,713.99 2044.66,705.5 2054.28,696.97 2063.91,688.42 2073.53,679.84 2083.15,671.23 2092.78,662.59 2102.4,653.92" fill="none" stroke="#d62728" stroke-width="3.8" stroke-dasharray="15 7.2"/>
<polyline points="1525,1284.96 1534.62,1276.26 1544.25,1267.59 1553.87,1258.95 1563.49,1250.35 1573.12,1241.78 1582.74,1233.24 1592.36,1224.74 1601.99,1216.27 1611.61,1207.83 1621.23,1199.42 1630.86,1191.05 1640.48,1182.71 1650.1,1174.41 1659.73,1166.14 1669.35,1157.9 1678.97,1149.69 1688.6,1141.52 1698.22,1133.38 1707.84,1125.27 1717.47,1117.2 1727.09,1109.16 1736.71,1101.15 1746.34,1093.18 1755.96,1085.23 1765.58,1077.33 1775.21,1069.45 1784.83,1061.61 1794.45,1053.8 1804.08,1046.03 1813.7,1038.28 1823.32,1030.57 1832.95,1022.9 1842.57,1015.26 1852.19,1007.65 1861.82,1000.07 1871.44,992.53 1881.06,985.01 1890.69,977.54 1900.31,970.09 1909.93,962.68 1919.56,955.3 1929.18,947.96 1938.8,940.65 1948.43,933.37 1958.05,926.12 1967.67,918.91 1977.3,911.73 1986.92,904.58 1996.54,897.47 2006.17,890.39 2015.79,883.34 2025.41,876.33 2035.04,869.35 2044.66,862.4 2054.28,855.49 2063.91,848.61 2073.53,841.76 2083.15,834.94 2092.78,828.16 2102.4,821.41" fill="none" stroke="#d62728" stroke-width="3.8" stroke-dasharray="15 7.2"/>
</g>
<rect x="1783.53" y="966.88" width="30.6" height="30.6" rx="5" fill="#000"/>
<circle cx="1798.83" cy="982.18" r="2.3" fill="none" stroke="#fff" stroke-width="1.4"/>
<rect x="1540" y="689.9" width="547.4" height="533.2" fill="none" stroke="#000" stroke-width="3"/>
<path d="M1540 1223.1V1229.6M1540 1223.1H1533M1649.48 1223.1V1229.6M1540 1116.46H1533M1758.96 1223.1V1229.6M1540 1009.82H1533M1868.44 1223.1V1229.6M1540 903.18H1533M1977.92 1223.1V1229.6M1540 796.54H1533M2087.4 1223.1V1229.6M1540 689.9H1533" stroke="#000" stroke-width="3" fill="none"/>
<text x="1540" y="1251.8" font-size="20" text-anchor="middle">−0.5</text>
<text x="1526.2" y="1230.4" font-size="20" text-anchor="end">−0.5</text>
<text x="1649.48" y="1251.8" font-size="20" text-anchor="middle">0.0</text>
<text x="1526.2" y="1123.76" font-size="20" text-anchor="end">0.0</text>
<text x="1758.96" y="1251.8" font-size="20" text-anchor="middle">0.5</text>
<text x="1526.2" y="1017.12" font-size="20" text-anchor="end">0.5</text>
<text x="1868.44" y="1251.8" font-size="20" text-anchor="middle">1.0</text>
<text x="1526.2" y="910.48" font-size="20" text-anchor="end">1.0</text>
<text x="1977.92" y="1251.8" font-size="20" text-anchor="middle">1.5</text>
<text x="1526.2" y="803.84" font-size="20" text-anchor="end">1.5</text>
<text x="2087.4" y="1251.8" font-size="20" text-anchor="middle">2.0</text>
<text x="1526.2" y="697.2" font-size="20" text-anchor="end">2.0</text>
<text x="1812.3" y="1288.5" font-size="27.65" text-anchor="middle">Predicted q<tspan font-size="19.35" font-style="italic" dy="4.5">s</tspan><tspan dy="-4.5" dx="1.2"> </tspan>response (ppmv K<tspan font-size="19.35" dy="-11">−1</tspan><tspan dy="11">)</tspan></text>
<text transform="translate(1464.7 956.5) rotate(-90)" x="0" y="0" font-size="27.65" text-anchor="middle">Actual q<tspan font-size="19.35" font-style="italic" dy="4.5">s</tspan><tspan dy="-4.5" dx="1.2"> </tspan>response (ppmv K<tspan font-size="19.35" dy="-11">−1</tspan><tspan dy="11">)</tspan></text>
<text x="1593.21" y="746.87" font-size="27.5">r = 0.92</text>
<text class="let" x="1445.6" y="693" font-size="46">f</text>
<g clip-path="url(#cg)">
<g fill="#e41a1c" fill-opacity="0.5" stroke="#e41a1c" stroke-opacity="0.5" stroke-width="1.0">
<circle cx="472.89" cy="1482.39" r="7.9"/>
<circle cx="583.45" cy="1491.55" r="7.9"/>
<circle cx="487.68" cy="1519.37" r="7.9"/>
<circle cx="411.97" cy="1552.11" r="7.9"/>
<circle cx="383.1" cy="1574.3" r="7.9"/>
<circle cx="422.54" cy="1583.1" r="7.9"/>
<circle cx="351.06" cy="1617.96" r="7.9"/>
<circle cx="430.63" cy="1626.06" r="7.9"/>
<circle cx="363.73" cy="1638.38" r="7.9"/>
<circle cx="366.2" cy="1648.94" r="7.9"/>
<circle cx="384.86" cy="1644.72" r="7.9"/>
<circle cx="410.92" cy="1648.24" r="7.9"/>
<circle cx="396.13" cy="1657.75" r="7.9"/>
<circle cx="311.62" cy="1654.93" r="7.9"/>
<circle cx="323.24" cy="1662.32" r="7.9"/>
<circle cx="325.7" cy="1664.79" r="7.9"/>
<circle cx="352.11" cy="1671.83" r="7.9"/>
<circle cx="252.82" cy="1670.07" r="7.9"/>
<circle cx="280.63" cy="1684.86" r="7.9"/>
<circle cx="242.96" cy="1710.56" r="7.9"/>
<circle cx="271.13" cy="1710.56" r="7.9"/>
<circle cx="292.25" cy="1711.27" r="7.9"/>
<circle cx="310.92" cy="1723.94" r="7.9"/>
<circle cx="312.32" cy="1737.68" r="7.9"/>
<circle cx="262.32" cy="1731.69" r="7.9"/>
<circle cx="263.03" cy="1745.77" r="7.9"/>
<circle cx="228.87" cy="1765.14" r="7.9"/>
</g>
<line x1="84.4" y1="1911.23" x2="675.6" y2="1335.37" stroke="#000" stroke-width="6"/>
<line x1="62.51" y1="1880.9" x2="697.49" y2="1373.44" stroke="#000" stroke-width="4" stroke-dasharray="15.5 6"/>
<polyline points="91.3,1772.32 100.92,1765.48 110.55,1758.61 120.17,1751.71 129.79,1744.77 139.42,1737.8 149.04,1730.79 158.66,1723.75 168.29,1716.68 177.91,1709.57 187.53,1702.43 197.16,1695.26 206.78,1688.05 216.4,1680.81 226.03,1673.54 235.65,1666.23 245.27,1658.89 254.9,1651.52 264.52,1644.11 274.14,1636.67 283.77,1629.19 293.39,1621.68 303.01,1614.14 312.64,1606.56 322.26,1598.95 331.88,1591.31 341.51,1583.63 351.13,1575.92 360.75,1568.18 370.38,1560.4 380,1552.59 389.62,1544.75 399.25,1536.87 408.87,1528.96 418.49,1521.01 428.12,1513.04 437.74,1505.02 447.36,1496.98 456.99,1488.9 466.61,1480.79 476.23,1472.64 485.86,1464.46 495.48,1456.25 505.1,1448 514.73,1439.72 524.35,1431.41 533.97,1423.06 543.6,1414.68 553.22,1406.26 562.84,1397.82 572.47,1389.33 582.09,1380.82 591.71,1372.27 601.34,1363.69 610.96,1355.07 620.58,1346.42 630.21,1337.74 639.83,1329.02 649.45,1320.27 659.08,1311.49 668.7,1302.67" fill="none" stroke="#d62728" stroke-width="3.8" stroke-dasharray="15 7.2"/>
<polyline points="91.3,1948.21 100.92,1939.47 110.55,1930.76 120.17,1922.09 129.79,1913.45 139.42,1904.86 149.04,1896.3 158.66,1887.77 168.29,1879.29 177.91,1870.84 187.53,1862.42 197.16,1854.05 206.78,1845.71 216.4,1837.41 226.03,1829.14 235.65,1820.91 245.27,1812.72 254.9,1804.56 264.52,1796.44 274.14,1788.36 283.77,1780.32 293.39,1772.31 303.01,1764.34 312.64,1756.4 322.26,1748.5 331.88,1740.64 341.51,1732.82 351.13,1725.03 360.75,1717.28 370.38,1709.56 380,1701.89 389.62,1694.25 399.25,1686.64 408.87,1679.08 418.49,1671.54 428.12,1664.05 437.74,1656.59 447.36,1649.17 456.99,1641.79 466.61,1634.45 476.23,1627.14 485.86,1619.86 495.48,1612.63 505.1,1605.43 514.73,1598.27 524.35,1591.14 533.97,1584.05 543.6,1577 553.22,1569.98 562.84,1563 572.47,1556.06 582.09,1549.16 591.71,1542.29 601.34,1535.46 610.96,1528.66 620.58,1521.91 630.21,1515.18 639.83,1508.5 649.45,1501.85 659.08,1495.24 668.7,1488.67" fill="none" stroke="#d62728" stroke-width="3.8" stroke-dasharray="15 7.2"/>
</g>
<rect x="336.81" y="1634.35" width="30.6" height="30.6" rx="5" fill="#000"/>
<circle cx="352.11" cy="1649.65" r="2.3" fill="none" stroke="#fff" stroke-width="1.4"/>
<rect x="106.3" y="1356.7" width="547.4" height="533.2" fill="none" stroke="#000" stroke-width="3"/>
<path d="M106.3 1889.9V1896.4M106.3 1889.9H99.3M215.78 1889.9V1896.4M106.3 1783.26H99.3M325.26 1889.9V1896.4M106.3 1676.62H99.3M434.74 1889.9V1896.4M106.3 1569.98H99.3M544.22 1889.9V1896.4M106.3 1463.34H99.3M653.7 1889.9V1896.4M106.3 1356.7H99.3" stroke="#000" stroke-width="3" fill="none"/>
<text x="106.3" y="1918.6" font-size="20" text-anchor="middle">−0.5</text>
<text x="92.5" y="1897.2" font-size="20" text-anchor="end">−0.5</text>
<text x="215.78" y="1918.6" font-size="20" text-anchor="middle">0.0</text>
<text x="92.5" y="1790.56" font-size="20" text-anchor="end">0.0</text>
<text x="325.26" y="1918.6" font-size="20" text-anchor="middle">0.5</text>
<text x="92.5" y="1683.92" font-size="20" text-anchor="end">0.5</text>
<text x="434.74" y="1918.6" font-size="20" text-anchor="middle">1.0</text>
<text x="92.5" y="1577.28" font-size="20" text-anchor="end">1.0</text>
<text x="544.22" y="1918.6" font-size="20" text-anchor="middle">1.5</text>
<text x="92.5" y="1470.64" font-size="20" text-anchor="end">1.5</text>
<text x="653.7" y="1918.6" font-size="20" text-anchor="middle">2.0</text>
<text x="92.5" y="1364" font-size="20" text-anchor="end">2.0</text>
<text x="378.6" y="1955.3" font-size="27.65" text-anchor="middle">Predicted <tspan font-style="italic">q</tspan><tspan font-size="19.35" font-style="italic" dy="4.5">s</tspan><tspan dy="-4.5" dx="1.2"> </tspan>response (ppmv K<tspan font-size="19.35" dy="-11">−1</tspan><tspan dy="11">)</tspan></text>
<text transform="translate(31 1623.3) rotate(-90)" x="0" y="0" font-size="27.65" text-anchor="middle">Actual <tspan font-style="italic">q</tspan><tspan font-size="19.35" font-style="italic" dy="4.5">s</tspan><tspan dy="-4.5" dx="1.2"> </tspan>response (ppmv K<tspan font-size="19.35" dy="-11">−1</tspan><tspan dy="11">)</tspan></text>
<text x="159.52" y="1413.63" font-size="27.5">r = 0.89</text>
<text class="let" x="8.1" y="1363.3" font-size="46">g</text>
<g clip-path="url(#ch)">
<g fill="#e41a1c" fill-opacity="0.5" stroke="#e41a1c" stroke-opacity="0.5" stroke-width="1.0">
<circle cx="1184.15" cy="1484.15" r="7.9"/>
<circle cx="1283.45" cy="1494.01" r="7.9"/>
<circle cx="1170.07" cy="1521.13" r="7.9"/>
<circle cx="1137.68" cy="1553.87" r="7.9"/>
<circle cx="1144.37" cy="1576.76" r="7.9"/>
<circle cx="1126.76" cy="1585.56" r="7.9"/>
<circle cx="1089.08" cy="1620.07" r="7.9"/>
<circle cx="1169.37" cy="1627.82" r="7.9"/>
<circle cx="1081.34" cy="1639.44" r="7.9"/>
<circle cx="1090.85" cy="1650.7" r="7.9"/>
<circle cx="1116.55" cy="1650.7" r="7.9"/>
<circle cx="1104.23" cy="1660.21" r="7.9"/>
<circle cx="1005.63" cy="1657.04" r="7.9"/>
<circle cx="1032.75" cy="1665.85" r="7.9"/>
<circle cx="1033.8" cy="1667.25" r="7.9"/>
<circle cx="975.7" cy="1671.83" r="7.9"/>
<circle cx="1078.52" cy="1673.59" r="7.9"/>
<circle cx="1002.82" cy="1686.62" r="7.9"/>
<circle cx="992.96" cy="1712.32" r="7.9"/>
<circle cx="1019.72" cy="1713.38" r="7.9"/>
<circle cx="1048.59" cy="1713.03" r="7.9"/>
<circle cx="1021.13" cy="1725.35" r="7.9"/>
<circle cx="991.55" cy="1734.15" r="7.9"/>
<circle cx="978.87" cy="1747.54" r="7.9"/>
<circle cx="1048.59" cy="1738.73" r="7.9"/>
<circle cx="958.8" cy="1767.61" r="7.9"/>
</g>
<line x1="807.3" y1="1913.03" x2="1398.5" y2="1337.17" stroke="#000" stroke-width="6"/>
<line x1="785.41" y1="1897.61" x2="1420.39" y2="1352.59" stroke="#000" stroke-width="4" stroke-dasharray="15.5 6"/>
<polyline points="814.2,1784.2 823.82,1776.96 833.45,1769.69 843.07,1762.38 852.69,1755.03 862.32,1747.63 871.94,1740.2 881.56,1732.73 891.19,1725.21 900.81,1717.66 910.43,1710.07 920.06,1702.43 929.68,1694.76 939.3,1687.04 948.93,1679.29 958.55,1671.49 968.17,1663.66 977.8,1655.78 987.42,1647.87 997.04,1639.91 1006.67,1631.92 1016.29,1623.88 1025.91,1615.81 1035.54,1607.69 1045.16,1599.54 1054.78,1591.34 1064.41,1583.11 1074.03,1574.83 1083.65,1566.51 1093.28,1558.16 1102.9,1549.76 1112.52,1541.32 1122.15,1532.85 1131.77,1524.33 1141.39,1515.77 1151.02,1507.17 1160.64,1498.54 1170.26,1489.86 1179.89,1481.14 1189.51,1472.38 1199.13,1463.59 1208.76,1454.75 1218.38,1445.87 1228,1436.95 1237.63,1427.99 1247.25,1418.99 1256.87,1409.96 1266.5,1400.88 1276.12,1391.76 1285.74,1382.6 1295.37,1373.4 1304.99,1364.16 1314.61,1354.88 1324.24,1345.56 1333.86,1336.2 1343.48,1326.8 1353.11,1317.36 1362.73,1307.88 1372.35,1298.36 1381.98,1288.8 1391.6,1279.2" fill="none" stroke="#d62728" stroke-width="3.8" stroke-dasharray="15 7.2"/>
<polyline points="814.2,1969.26 823.82,1959.65 833.45,1950.08 843.07,1940.55 852.69,1931.07 862.32,1921.64 871.94,1912.25 881.56,1902.9 891.19,1893.61 900.81,1884.36 910.43,1875.15 920.06,1865.99 929.68,1856.87 939.3,1847.8 948.93,1838.78 958.55,1829.8 968.17,1820.87 977.8,1811.98 987.42,1803.14 997.04,1794.34 1006.67,1785.59 1016.29,1776.89 1025.91,1768.23 1035.54,1759.62 1045.16,1751.05 1054.78,1742.52 1064.41,1734.05 1074.03,1725.62 1083.65,1717.23 1093.28,1708.89 1102.9,1700.59 1112.52,1692.35 1122.15,1684.14 1131.77,1675.98 1141.39,1667.87 1151.02,1659.8 1160.64,1651.78 1170.26,1643.81 1179.89,1635.88 1189.51,1627.99 1199.13,1620.15 1208.76,1612.36 1218.38,1604.61 1228,1596.91 1237.63,1589.25 1247.25,1581.64 1256.87,1574.08 1266.5,1566.56 1276.12,1559.08 1285.74,1551.65 1295.37,1544.27 1304.99,1536.93 1314.61,1529.64 1324.24,1522.39 1333.86,1515.19 1343.48,1508.04 1353.11,1500.93 1362.73,1493.86 1372.35,1486.84 1381.98,1479.87 1391.6,1472.94" fill="none" stroke="#d62728" stroke-width="3.8" stroke-dasharray="15 7.2"/>
</g>
<rect x="1056.88" y="1635.4" width="30.6" height="30.6" rx="5" fill="#000"/>
<circle cx="1072.18" cy="1650.7" r="2.3" fill="none" stroke="#fff" stroke-width="1.4"/>
<rect x="829.2" y="1358.5" width="547.4" height="533.2" fill="none" stroke="#000" stroke-width="3"/>
<path d="M829.2 1891.7V1898.2M829.2 1891.7H822.2M938.68 1891.7V1898.2M829.2 1785.06H822.2M1048.16 1891.7V1898.2M829.2 1678.42H822.2M1157.64 1891.7V1898.2M829.2 1571.78H822.2M1267.12 1891.7V1898.2M829.2 1465.14H822.2M1376.6 1891.7V1898.2M829.2 1358.5H822.2" stroke="#000" stroke-width="3" fill="none"/>
<text x="829.2" y="1920.4" font-size="20" text-anchor="middle">−0.5</text>
<text x="815.4" y="1899" font-size="20" text-anchor="end">−0.5</text>
<text x="938.68" y="1920.4" font-size="20" text-anchor="middle">0.0</text>
<text x="815.4" y="1792.36" font-size="20" text-anchor="end">0.0</text>
<text x="1048.16" y="1920.4" font-size="20" text-anchor="middle">0.5</text>
<text x="815.4" y="1685.72" font-size="20" text-anchor="end">0.5</text>
<text x="1157.64" y="1920.4" font-size="20" text-anchor="middle">1.0</text>
<text x="815.4" y="1579.08" font-size="20" text-anchor="end">1.0</text>
<text x="1267.12" y="1920.4" font-size="20" text-anchor="middle">1.5</text>
<text x="815.4" y="1472.44" font-size="20" text-anchor="end">1.5</text>
<text x="1376.6" y="1920.4" font-size="20" text-anchor="middle">2.0</text>
<text x="815.4" y="1365.8" font-size="20" text-anchor="end">2.0</text>
<text x="1101.5" y="1957.1" font-size="27.65" text-anchor="middle">Predicted <tspan font-style="italic">q</tspan><tspan font-size="19.35" font-style="italic" dy="4.5">s</tspan><tspan dy="-4.5" dx="1.2"> </tspan>response (ppmv K<tspan font-size="19.35" dy="-11">−1</tspan><tspan dy="11">)</tspan></text>
<text transform="translate(753.9 1625.1) rotate(-90)" x="0" y="0" font-size="27.65" text-anchor="middle">Actual <tspan font-style="italic">q</tspan><tspan font-size="19.35" font-style="italic" dy="4.5">s</tspan><tspan dy="-4.5" dx="1.2"> </tspan>response (ppmv K<tspan font-size="19.35" dy="-11">−1</tspan><tspan dy="11">)</tspan></text>
<text x="882.4" y="1416.09" font-size="27.5">r = 0.88</text>
<text class="let" x="726.9" y="1373.6" font-size="46">h</text>
<g clip-path="url(#ci)">
<g fill="#e41a1c" fill-opacity="0.5" stroke="#e41a1c" stroke-opacity="0.5" stroke-width="1.0">
<circle cx="1866.08" cy="1485.21" r="7.9"/>
<circle cx="1869.61" cy="1496.48" r="7.9"/>
<circle cx="1821.01" cy="1523.24" r="7.9"/>
<circle cx="1841.08" cy="1556.34" r="7.9"/>
<circle cx="1871.37" cy="1578.52" r="7.9"/>
<circle cx="1870.31" cy="1587.32" r="7.9"/>
<circle cx="1686.51" cy="1621.83" r="7.9"/>
<circle cx="1757.63" cy="1629.58" r="7.9"/>
<circle cx="1837.92" cy="1641.2" r="7.9"/>
<circle cx="1826.3" cy="1648.94" r="7.9"/>
<circle cx="1808.69" cy="1651.76" r="7.9"/>
<circle cx="1843.9" cy="1653.17" r="7.9"/>
<circle cx="1859.75" cy="1661.97" r="7.9"/>
<circle cx="1761.86" cy="1659.51" r="7.9"/>
<circle cx="1761.15" cy="1672.89" r="7.9"/>
<circle cx="1783.34" cy="1668.31" r="7.9"/>
<circle cx="1790.38" cy="1671.13" r="7.9"/>
<circle cx="1799.89" cy="1675.35" r="7.9"/>
<circle cx="1730.17" cy="1688.73" r="7.9"/>
<circle cx="1705.52" cy="1715.14" r="7.9"/>
<circle cx="1747.77" cy="1714.79" r="7.9"/>
<circle cx="1761.15" cy="1715.14" r="7.9"/>
<circle cx="1740.73" cy="1727.46" r="7.9"/>
<circle cx="1719.61" cy="1735.92" r="7.9"/>
<circle cx="1749.54" cy="1741.55" r="7.9"/>
<circle cx="1714.32" cy="1749.3" r="7.9"/>
<circle cx="1702" cy="1769.72" r="7.9"/>
</g>
<line x1="1516.4" y1="1915.43" x2="2107.6" y2="1339.57" stroke="#000" stroke-width="6"/>
<line x1="1494.51" y1="1925.28" x2="2129.49" y2="1335.35" stroke="#000" stroke-width="4" stroke-dasharray="15.5 6"/>
<polyline points="1523.3,1765.71 1532.92,1759.03 1542.55,1752.26 1552.17,1745.4 1561.79,1738.46 1571.42,1731.42 1581.04,1724.3 1590.66,1717.09 1600.29,1709.79 1609.91,1702.4 1619.53,1694.93 1629.16,1687.36 1638.78,1679.71 1648.4,1671.97 1658.03,1664.14 1667.65,1656.22 1677.27,1648.22 1686.9,1640.12 1696.52,1631.94 1706.14,1623.67 1715.77,1615.31 1725.39,1606.86 1735.01,1598.32 1744.64,1589.7 1754.26,1580.98 1763.88,1572.18 1773.51,1563.29 1783.13,1554.31 1792.75,1545.25 1802.38,1536.09 1812,1526.85 1821.62,1517.52 1831.25,1508.1 1840.87,1498.59 1850.49,1488.99 1860.12,1479.3 1869.74,1469.53 1879.36,1459.67 1888.99,1449.72 1898.61,1439.68 1908.23,1429.55 1917.86,1419.33 1927.48,1409.03 1937.1,1398.64 1946.73,1388.15 1956.35,1377.58 1965.97,1366.93 1975.6,1356.18 1985.22,1345.35 1994.84,1334.42 2004.47,1323.41 2014.09,1312.31 2023.71,1301.12 2033.34,1289.85 2042.96,1278.48 2052.58,1267.03 2062.21,1255.48 2071.83,1243.85 2081.45,1232.14 2091.08,1220.33 2100.7,1208.43" fill="none" stroke="#d62728" stroke-width="3.8" stroke-dasharray="15 7.2"/>
<polyline points="1523.3,2034.67 1532.92,2023.39 1542.55,2012.18 1552.17,2001.06 1561.79,1990.03 1571.42,1979.07 1581.04,1968.21 1590.66,1957.42 1600.29,1946.72 1609.91,1936.1 1619.53,1925.56 1629.16,1915.1 1638.78,1904.73 1648.4,1894.45 1658.03,1884.24 1667.65,1874.12 1677.27,1864.08 1686.9,1854.13 1696.52,1844.26 1706.14,1834.47 1715.77,1824.76 1725.39,1815.14 1735.01,1805.6 1744.64,1796.15 1754.26,1786.77 1763.88,1777.49 1773.51,1768.28 1783.13,1759.16 1792.75,1750.12 1802.38,1741.16 1812,1732.29 1821.62,1723.5 1831.25,1714.79 1840.87,1706.16 1850.49,1697.62 1860.12,1689.17 1869.74,1680.79 1879.36,1672.5 1888.99,1664.29 1898.61,1656.17 1908.23,1648.13 1917.86,1640.17 1927.48,1632.29 1937.1,1624.5 1946.73,1616.79 1956.35,1609.17 1965.97,1601.62 1975.6,1594.16 1985.22,1586.79 1994.84,1579.49 2004.47,1572.28 2014.09,1565.16 2023.71,1558.11 2033.34,1551.15 2042.96,1544.28 2052.58,1537.48 2062.21,1530.77 2071.83,1524.14 2081.45,1517.6 2091.08,1511.14 2100.7,1504.76" fill="none" stroke="#d62728" stroke-width="3.8" stroke-dasharray="15 7.2"/>
</g>
<rect x="1771.21" y="1637.16" width="30.6" height="30.6" rx="5" fill="#000"/>
<circle cx="1786.51" cy="1652.46" r="2.3" fill="none" stroke="#fff" stroke-width="1.4"/>
<rect x="1538.3" y="1360.9" width="547.4" height="533.2" fill="none" stroke="#000" stroke-width="3"/>
<path d="M1538.3 1894.1V1900.6M1538.3 1894.1H1531.3M1647.78 1894.1V1900.6M1538.3 1787.46H1531.3M1757.26 1894.1V1900.6M1538.3 1680.82H1531.3M1866.74 1894.1V1900.6M1538.3 1574.18H1531.3M1976.22 1894.1V1900.6M1538.3 1467.54H1531.3M2085.7 1894.1V1900.6M1538.3 1360.9H1531.3" stroke="#000" stroke-width="3" fill="none"/>
<text x="1538.3" y="1922.8" font-size="20" text-anchor="middle">−0.5</text>
<text x="1524.5" y="1901.4" font-size="20" text-anchor="end">−0.5</text>
<text x="1647.78" y="1922.8" font-size="20" text-anchor="middle">0.0</text>
<text x="1524.5" y="1794.76" font-size="20" text-anchor="end">0.0</text>
<text x="1757.26" y="1922.8" font-size="20" text-anchor="middle">0.5</text>
<text x="1524.5" y="1688.12" font-size="20" text-anchor="end">0.5</text>
<text x="1866.74" y="1922.8" font-size="20" text-anchor="middle">1.0</text>
<text x="1524.5" y="1581.48" font-size="20" text-anchor="end">1.0</text>
<text x="1976.22" y="1922.8" font-size="20" text-anchor="middle">1.5</text>
<text x="1524.5" y="1474.84" font-size="20" text-anchor="end">1.5</text>
<text x="2085.7" y="1922.8" font-size="20" text-anchor="middle">2.0</text>
<text x="1524.5" y="1368.2" font-size="20" text-anchor="end">2.0</text>
<text x="1810.6" y="1959.5" font-size="27.65" text-anchor="middle">Predicted <tspan font-style="italic">q</tspan><tspan font-size="19.35" font-style="italic" dy="4.5">s</tspan><tspan dy="-4.5" dx="1.2"> </tspan>response (ppmv K<tspan font-size="19.35" dy="-11">−1</tspan><tspan dy="11">)</tspan></text>
<text transform="translate(1463 1627.5) rotate(-90)" x="0" y="0" font-size="27.65" text-anchor="middle">Actual <tspan font-style="italic">q</tspan><tspan font-size="19.35" font-style="italic" dy="4.5">s</tspan><tspan dy="-4.5" dx="1.2"> </tspan>response (ppmv K<tspan font-size="19.35" dy="-11">−1</tspan><tspan dy="11">)</tspan></text>
<text x="1591.45" y="1417.85" font-size="27.5">r = 0.73</text>
<text class="let" x="1447.1" y="1373.6" font-size="46">i</text>
</svg></body></html>
